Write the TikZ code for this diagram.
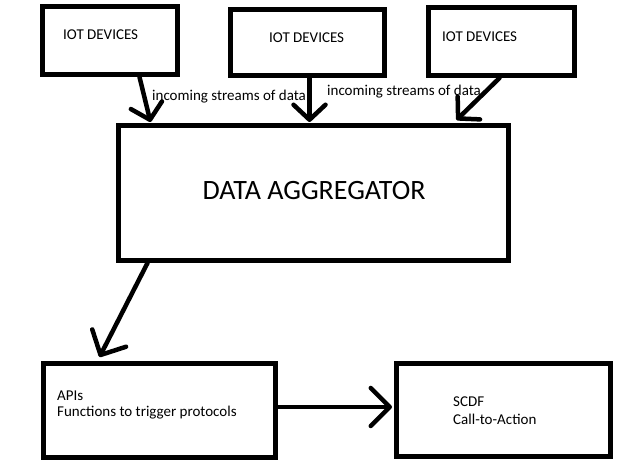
\documentclass[tikz,border=0pt]{standalone}
\usepackage{fontspec}
\setmainfont{Carlito}
\usetikzlibrary{arrows.meta,calc}
\begin{document}
\begin{tikzpicture}[x=1pt,y=-1pt,
  box/.style={draw=black,line width=5pt,rectangle,inner sep=0pt,anchor=center},
  small/.style={font=\fontsize{15}{18}\selectfont,inner sep=0pt,anchor=west},
  arr/.style={line width=4.5pt,line cap=round,
    -{Straight Barb[length=15pt,width=32pt,line width=4.5pt,round]}},
  bigarr/.style={line width=4.5pt,line cap=round,
    -{Straight Barb[length=19pt,width=38pt,line width=4.5pt,round]}},
]
\useasboundingbox[fill=white] (0,0) rectangle (627,470);
% boxes
\node[box,minimum width=135pt,minimum height=68pt] (b1) at (110,40.5) {};
\node[box,minimum width=154pt,minimum height=66pt] (b2) at (307.5,42.5) {};
\node[box,minimum width=146pt,minimum height=68pt] (b3) at (501.5,41.5) {};
\node[box,minimum width=390pt,minimum height=135pt] (agg) at (313.5,193) {};
\node[box,minimum width=232pt,minimum height=94pt] (apis) at (159,410.5) {};
\node[box,minimum width=214pt,minimum height=93pt] (scdf) at (503.5,410) {};
% texts
\node[small] (t1) at (63,35) {IOT DEVICES};
\node[small] (t2) at (269,38) {IOT DEVICES};
\node[small] (t3) at (442,37) {IOT DEVICES};
\node[font=\fontsize{28}{32}\selectfont,inner sep=0pt] (tagg) at (314,191) {DATA AGGREGATOR};
\node[small] (tapi1) at (57,396) {APIs};
\node[small] (tapi2) at (57,413) {Functions to trigger protocols};
\node[small] (tsc1) at (453,402) {SCDF};
\node[small] (tsc2) at (453,419) {Call-to-Action};
\node[small] (l1) at (152,97) {incoming streams of data};
\node[small] (l2) at (327,92) {incoming streams of data};
% connectors
\draw[arr] ($(b1.south west)+(99.5,0)$) -- ($(agg.north west)+(34.5,-1)$);
\draw[arr] ($(b2.south west)+(81.5,0)$) -- ($(agg.north west)+(193.5,-1)$);
\draw[arr] ($(b3.south west)+(73.5,0)$) -- ($(agg.north west)+(340.5,-3)$);
\draw[bigarr] ($(agg.south west)+(31.5,0)$) -- ($(apis.north west)+(59,-4)$);
\draw[bigarr] ($(apis.east)+(0,-3.5)$) -- ($(scdf.west)+(-2,-3)$);
\end{tikzpicture}
\end{document}
